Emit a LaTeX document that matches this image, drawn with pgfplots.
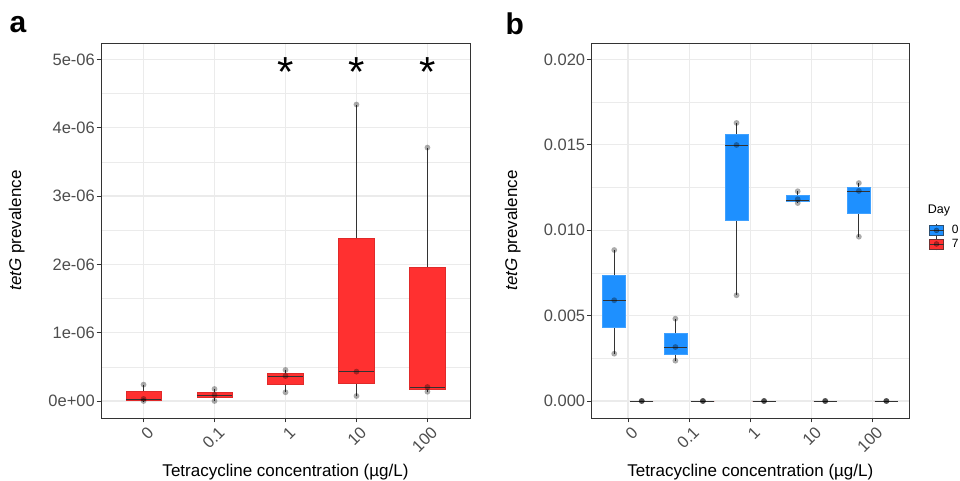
\documentclass[border=0pt]{standalone}
\usepackage{pgfplots}
\pgfplotsset{compat=1.18}
\usepgfplotslibrary{statistics}
\usepackage{fontspec}
\setmainfont{Liberation Sans}
\definecolor{redfill}{HTML}{FF3030}
\definecolor{bluefill}{HTML}{1E90FF}
\definecolor{gridc}{HTML}{EBEBEB}
\definecolor{gray20}{HTML}{333333}
\definecolor{gray30}{HTML}{4D4D4D}

\pgfplotsset{
  myax/.style={
    scale only axis, anchor=south west, height=375pt,
    xmin=0.4, xmax=5.6, xtick={1,2,3,4,5}, xticklabels={0,0.1,1,10,100},
    axis line style={gray20, line width=0.9pt},
    tick style={gray20, line width=0.9pt},
    tick align=outside, major tick length=4.5pt, minor tick length=0pt,
    xtick pos=bottom, ytick pos=left,
    xmajorgrids, ymajorgrids, yminorgrids, minor y tick num=1,
    major grid style={gridc, line width=1.2pt},
    minor grid style={gridc, line width=0.6pt},
    tick label style={font=\fontsize{16.5}{19}\selectfont, text=gray30},
    xticklabel style={rotate=45, anchor=north east, inner sep=0pt, yshift=-4pt},
    yticklabel style={inner sep=0pt, xshift=-1.5pt},
    scaled y ticks=false,
    boxplot/draw direction=y,
    boxplot/every whisker/.style={draw=gray20, line width=0.9pt},
    boxplot/every median/.style={draw=gray20, line width=0.9pt},
    boxplot/whisker extend=0,
  },
  redbox/.style={boxplot/every box/.style={draw=redfill!88!black, fill=redfill, line width=0.6pt}},
  bluebox/.style={boxplot/every box/.style={draw=bluefill!85!white, fill=bluefill, line width=0.6pt}},
  pts/.style={only marks, mark=*, mark size=2.9pt, mark options={draw opacity=0, fill=black, fill opacity=0.33}, forget plot},
}

\begin{document}
\begin{tikzpicture}[x=1pt,y=1pt]
\path[use as bounding box] (0,0) rectangle (960,481);

% ---------------- Panel a (values in units of 1e-06) ----------------
\begin{axis}[myax, at={(101pt,63pt)}, width=369pt,
  ymin=-0.249, ymax=5.241,
  ytick={0,1,2,3,4,5},
  yticklabels={0e+00,1e-06,2e-06,3e-06,4e-06,5e-06},
  redbox]
\addplot[forget plot, boxplot prepared={draw position=1, lower whisker=0, lower quartile=0.005, median=0.025, upper quartile=0.136, upper whisker=0.24, box extend=0.5}] coordinates {};
\addplot[forget plot, boxplot prepared={draw position=2, lower whisker=0, lower quartile=0.049, median=0.078, upper quartile=0.127, upper whisker=0.176, box extend=0.5}] coordinates {};
\addplot[forget plot, boxplot prepared={draw position=3, lower whisker=0.127, lower quartile=0.244, median=0.36, upper quartile=0.405, upper whisker=0.454, box extend=0.5}] coordinates {};
\addplot[forget plot, boxplot prepared={draw position=4, lower whisker=0.073, lower quartile=0.253, median=0.435, upper quartile=2.38, upper whisker=4.34, box extend=0.5}] coordinates {};
\addplot[forget plot, boxplot prepared={draw position=5, lower whisker=0.136, lower quartile=0.171, median=0.2, upper quartile=1.95, upper whisker=3.71, box extend=0.5}] coordinates {};
\addplot[pts] coordinates {(1,0.24) (1,0.03) (1,0)
  (2,0.176) (2,0.088) (2,0)
  (3,0.454) (3,0.366) (3,0.127)
  (4,4.34) (4,0.43) (4,0.073)
  (5,3.71) (5,0.205) (5,0.136)};
\node[anchor=base, font=\fontsize{42}{42}\selectfont, inner sep=0pt] at (axis cs:3,4.6) {*};
\node[anchor=base, font=\fontsize{42}{42}\selectfont, inner sep=0pt] at (axis cs:4,4.6) {*};
\node[anchor=base, font=\fontsize{42}{42}\selectfont, inner sep=0pt] at (axis cs:5,4.6) {*};
\end{axis}

% ---------------- Panel b (values in units of 1e-03) ----------------
\begin{axis}[myax, at={(591.3pt,63pt)}, width=318pt,
  ymin=-0.995, ymax=20.96,
  ytick={0,5,10,15,20},
  yticklabels={0.000,0.005,0.010,0.015,0.020},
  legend style={draw=none, fill=none, at={(rel axis cs:1.062,0.519)}, anchor=north west,
    inner sep=0pt, row sep=0pt, font=\fontsize{12}{14}\selectfont,
    nodes={inner sep=1pt, text=black}},
  legend cell align=left]
\addlegendimage{legend image code/.code={
  \draw[gray20, line width=0.6pt] (7pt,-6.5pt)--(7pt,6.5pt);
  \draw[draw=gray20!70!bluefill, fill=bluefill, line width=0.6pt] (0pt,-5pt) rectangle (14pt,5pt);
  \draw[gray20, line width=0.6pt] (0pt,0pt)--(14pt,0pt);
  \fill[black, opacity=0.33] (7pt,0pt) circle (2.5pt);}}
\addlegendentry{\hspace{7pt}0}
\addlegendimage{legend image code/.code={
  \draw[gray20, line width=0.6pt] (7pt,-6.5pt)--(7pt,6.5pt);
  \draw[draw=gray20!70!redfill, fill=redfill, line width=0.6pt] (0pt,-5pt) rectangle (14pt,5pt);
  \draw[gray20, line width=0.6pt] (0pt,0pt)--(14pt,0pt);
  \fill[black, opacity=0.33] (7pt,0pt) circle (2.5pt);}}
\addlegendentry{\hspace{7pt}7}
% day 0
\addplot[forget plot, bluebox, boxplot prepared={draw position=0.775, lower whisker=2.77, lower quartile=4.33, median=5.9, upper quartile=7.36, upper whisker=8.84, box extend=0.375}] coordinates {};
\addplot[forget plot, bluebox, boxplot prepared={draw position=1.775, lower whisker=2.36, lower quartile=2.75, median=3.14, upper quartile=3.96, upper whisker=4.82, box extend=0.375}] coordinates {};
\addplot[forget plot, bluebox, boxplot prepared={draw position=2.775, lower whisker=6.19, lower quartile=10.58, median=14.97, upper quartile=15.61, upper whisker=16.28, box extend=0.375}] coordinates {};
\addplot[forget plot, bluebox, boxplot prepared={draw position=3.775, lower whisker=11.59, lower quartile=11.67, median=11.75, upper quartile=12.02, upper whisker=12.28, box extend=0.375}] coordinates {};
\addplot[forget plot, bluebox, boxplot prepared={draw position=4.775, lower whisker=9.62, lower quartile=10.97, median=12.28, upper quartile=12.51, upper whisker=12.76, box extend=0.375}] coordinates {};
% day 7
\addplot[forget plot, redbox, boxplot prepared={draw position=1.225, lower whisker=0, lower quartile=0, median=0, upper quartile=0, upper whisker=0, box extend=0.375}] coordinates {};
\addplot[forget plot, redbox, boxplot prepared={draw position=2.225, lower whisker=0, lower quartile=0, median=0, upper quartile=0, upper whisker=0, box extend=0.375}] coordinates {};
\addplot[forget plot, redbox, boxplot prepared={draw position=3.225, lower whisker=0, lower quartile=0, median=0, upper quartile=0, upper whisker=0, box extend=0.375}] coordinates {};
\addplot[forget plot, redbox, boxplot prepared={draw position=4.225, lower whisker=0, lower quartile=0, median=0, upper quartile=0, upper whisker=0, box extend=0.375}] coordinates {};
\addplot[forget plot, redbox, boxplot prepared={draw position=5.225, lower whisker=0, lower quartile=0, median=0, upper quartile=0, upper whisker=0, box extend=0.375}] coordinates {};
\addplot[pts] coordinates {(0.775,8.84) (0.775,5.9) (0.775,2.77)
  (1.775,4.82) (1.775,3.16) (1.775,2.36)
  (2.775,16.28) (2.775,14.99) (2.775,6.19)
  (3.775,12.28) (3.775,11.81) (3.775,11.59)
  (4.775,12.76) (4.775,12.3) (4.775,9.62)
  (1.225,0) (1.225,0) (1.225,0)
  (2.225,0) (2.225,0) (2.225,0)
  (3.225,0) (3.225,0) (3.225,0)
  (4.225,0) (4.225,0) (4.225,0)
  (5.225,0) (5.225,0) (5.225,0)};
\end{axis}

% ---------------- Titles ----------------
\node[anchor=base west, font=\fontsize{30}{30}\selectfont\bfseries, inner sep=0pt] at (9.5,448.7) {a};
\node[anchor=base west, font=\fontsize{30}{30}\selectfont\bfseries, inner sep=0pt] at (505.5,446) {b};
\node[anchor=base, rotate=90, font=\fontsize{17}{20}\selectfont, inner sep=0pt] at (21,250.5) {\textit{tetG} prevalence};
\node[anchor=base, rotate=90, font=\fontsize{17}{20}\selectfont, inner sep=0pt] at (517,250.5) {\textit{tetG} prevalence};
\node[anchor=base, font=\fontsize{17}{20}\selectfont, inner sep=0pt] at (285.5,4.5) {Tetracycline concentration (µg/L)};
\node[anchor=base, font=\fontsize{17}{20}\selectfont, inner sep=0pt] at (750.3,4.5) {Tetracycline concentration (µg/L)};
\node[anchor=base west, font=\fontsize{12.5}{14}\selectfont, inner sep=0pt] at (927.7,267) {Day};
\end{tikzpicture}
\end{document}
